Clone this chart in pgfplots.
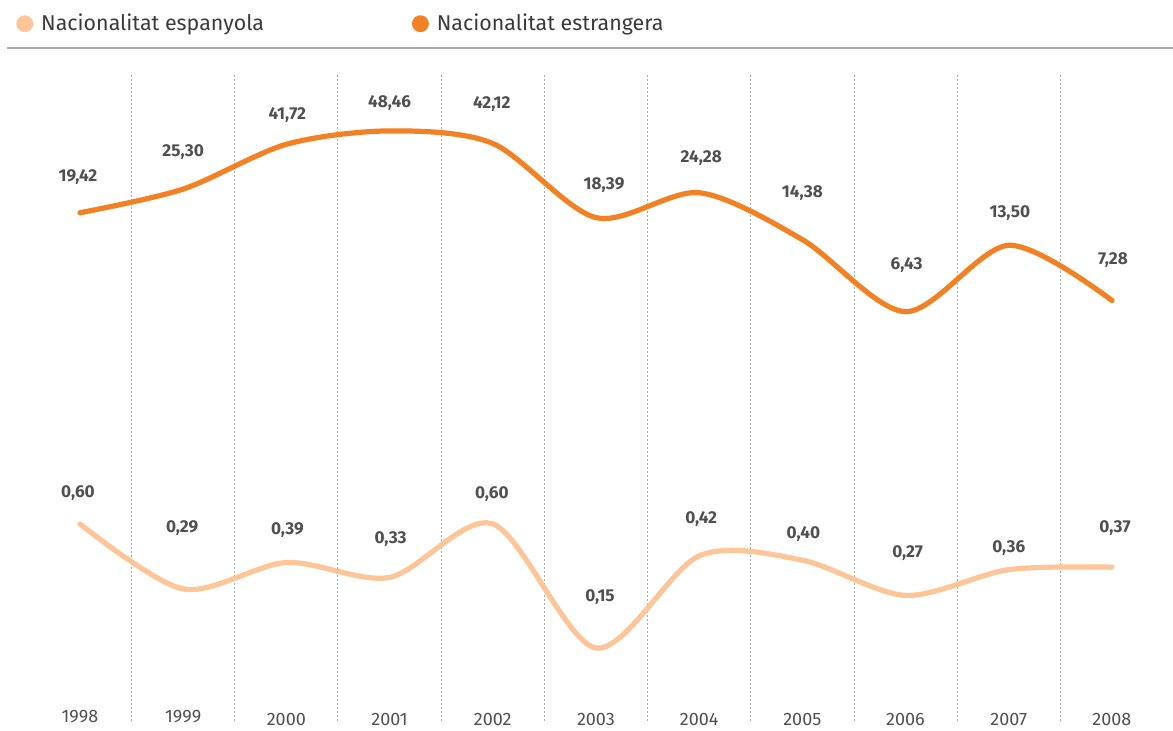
\documentclass[border=0pt]{standalone}
\usepackage{pgfplots}
\pgfplotsset{compat=1.18}
\usepackage{pgfplotstable}
\usepackage{fontspec}
\setmainfont{Fira Sans}
\definecolor{orng}{HTML}{F28123}
\definecolor{lite}{HTML}{FDC598}
\definecolor{lbl}{HTML}{505050}
\definecolor{txt}{HTML}{3A3A3A}
\definecolor{gridc}{HTML}{ABABAB}

% \vl{dy px}{dx px}{label}: value label set dy px above and dx px right of the point
\newcommand\vl[3]{\raisebox{\dimexpr #1pt*1/2-3pt\relax}[0pt][0pt]{\makebox[0pt][c]{\hspace*{#2pt}#3}}}

\pgfplotstableread{
x y lab
1998 0.60 \vl{32.9}{-2}{0,60}
1999 0.29 \vl{62.0}{-1}{0,29}
2000 0.39 \vl{33.5}{1}{0,39}
2001 0.33 \vl{40.4}{1}{0,33}
2002 0.60 \vl{31.9}{-1}{0,60}
2003 0.15 \vl{52.0}{4}{0,15}
2004 0.42 \vl{38.8}{2}{0,42}
2005 0.40 \vl{27.2}{1}{0,40}
2006 0.27 \vl{43.4}{2}{0,27}
2007 0.36 \vl{23.6}{0}{0,36}
2008 0.37 \vl{40.2}{3}{0,37}
}\esp

\pgfplotstableread{
x y lab
1998 19.42 \vl{36.8}{-2}{19,42}
1999 25.30 \vl{38.1}{0}{25,30}
2000 41.72 \vl{31.3}{1}{41,72}
2001 48.46 \vl{29.9}{0}{48,46}
2002 42.12 \vl{40.5}{-1}{42,12}
2003 18.39 \vl{34.6}{8}{18,39}
2004 24.28 \vl{35.8}{2}{24,28}
2005 14.38 \vl{48.6}{0}{14,38}
2006 6.43 \vl{47.7}{1}{6,43}
2007 13.50 \vl{33.3}{1}{13,50}
2008 7.28 \vl{41.6}{1}{7,28}
}\est

\pgfplotsset{
  vlabels/.style={
    nodes near coords,
    point meta=explicit symbolic,
    every node near coord/.style={anchor=center, inner sep=0pt,
      font=\fontsize{8.6}{10}\selectfont\bfseries, text=lbl},
  }
}

\begin{document}
\begin{tikzpicture}
\begin{axis}[
  at={(0,0)}, anchor=south west,
  scale only axis, width=586.5pt, height=341.5pt,
  xmin=1997.225, xmax=2008.591,
  ymode=log, ymin=0.05932, ymax=122.4,
  axis line style={draw=none}, major tick length=0pt, tick style={draw=none},
  ytick=\empty,
  xtick={1998,...,2008},
  xticklabels={\raisebox{1.5pt}{1998},\raisebox{1.5pt}{1999},2000,2001,2002,2003,2004,2005,2006,2007,2008},
  xticklabel style={anchor=base, yshift=2.5pt, font=\fontsize{9}{10}\selectfont, text=lbl},
  clip=false,
  legend columns=2,
  legend cell align=left,
  legend style={at={(rel axis cs:0,1)}, anchor=south west, xshift=8pt, yshift=5pt,
    draw=none, fill=none, inner sep=0pt, font=\fontsize{10.7}{12}\selectfont, text=txt,
    /tikz/every odd column/.append style={column sep=2pt},
    /tikz/every even column/.append style={column sep=72pt}},
  legend image code/.code={\fill (2.5pt,0pt) circle (2.9pt);},
]
\pgfplotsinvokeforeach{1998,...,2007}{
  \draw[gridc, line width=0.5pt, dash pattern=on 1pt off 1pt] (axis cs:#1.5,90.5) -- (axis cs:#1.5,0.06557);
}
\draw[gridc, line width=1pt] (rel axis cs:0.006,1) -- (rel axis cs:1,1);
\addplot[lite, line width=2.6pt, smooth, line cap=round, mark=none, vlabels] table[x=x, y=y, meta=lab] {\esp};
\addlegendentry{Nacionalitat espanyola}
\addplot[orng, line width=2.6pt, smooth, line cap=round, mark=none, vlabels] table[x=x, y=y, meta=lab] {\est};
\addlegendentry{Nacionalitat estrangera}
\end{axis}
\pgfresetboundingbox
\path (0,0) rectangle (586.5pt,365.5pt);
\end{tikzpicture}
\end{document}
